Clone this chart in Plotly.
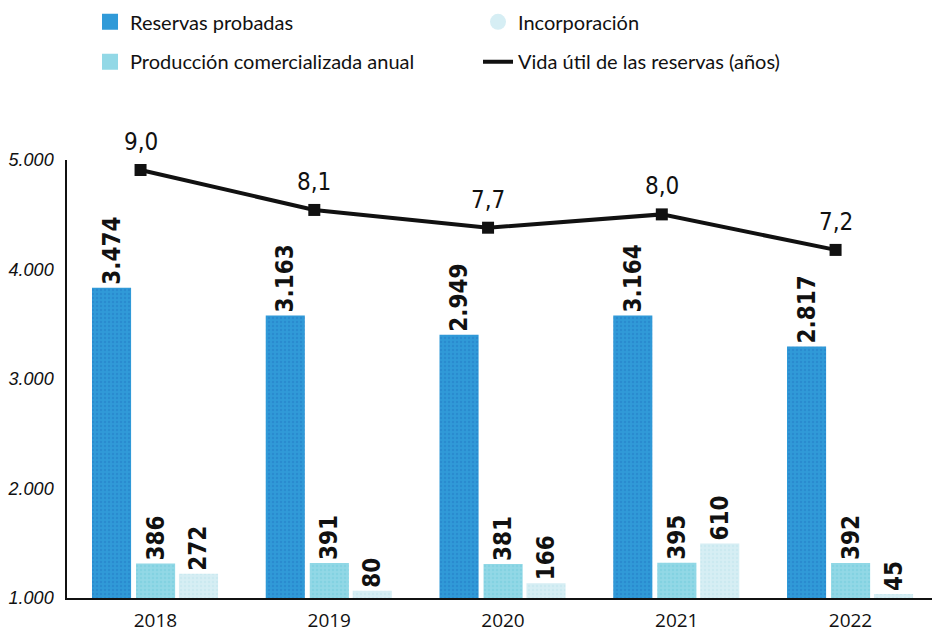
import plotly.graph_objects as go

years = [2018, 2019, 2020, 2021, 2022]
reservas = [3474, 3163, 2949, 3164, 2817]
produccion = [386, 391, 381, 395, 392]
incorporacion = [272, 80, 166, 610, 45]
vida_util = [9.0, 8.1, 7.7, 8.0, 7.2]
year_labels = ["2018", "2019", "2020", "2021", "2022"]
y_ticks = [1000, 2000, 3000, 4000, 5000]

C_RES = "#309ad8"
C_PROD = "#92d8e6"
C_INC = "#d6eef4"

BAR_FONT = dict(family="DejaVu Sans Condensed, Liberation Sans Narrow, sans-serif",
                size=24, color="#111111", weight="bold")
LINE_FONT = dict(family="DejaVu Sans Condensed, Liberation Sans Narrow, sans-serif",
                 size=24, color="#111111")

W = 0.225
fig = go.Figure()

def bar(vals, color, offset, pat):
    return go.Bar(
        x=years, y=vals, width=W, offset=offset,
        marker=dict(color=color, line=dict(width=0), pattern=pat),
        text=vals, texttemplate="%{y:,.0f}", textposition="outside",
        textangle=-90, textfont=BAR_FONT, cliponaxis=False,
        constraintext="none", showlegend=False, hoverinfo="skip",
        xaxis="x", yaxis="y2",
    )

fig.add_trace(bar(reservas, C_RES, -0.3655,
                  dict(shape=".", fgcolor="#1f6fbc", fgopacity=0.35, size=4, solidity=0.3)))
fig.add_trace(bar(produccion, C_PROD, -0.112,
                  dict(shape=".", fgcolor="#5fc3d6", fgopacity=0.3, size=4, solidity=0.3)))
fig.add_trace(bar(incorporacion, C_INC, 0.135,
                  dict(shape=".", fgcolor="#b5e0ea", fgopacity=0.3, size=4, solidity=0.3)))

fig.add_trace(go.Scatter(
    x=years, y=vida_util, mode="lines+markers",
    line=dict(color="#111111", width=4),
    marker=dict(symbol="square", size=12, color="#111111"),
    showlegend=False, xaxis="x2", yaxis="y3", hoverinfo="skip",
))
for xv, v in zip(years, vida_util):
    fig.add_annotation(x=xv, y=v, xref="x2", yref="y3", text=f"{v:.1f}".replace(".", ","),
                       showarrow=False, yanchor="bottom", yshift=12, font=LINE_FONT)

# legend entries
def leg(name, symbol, color, legend, rank):
    return go.Scatter(x=[None], y=[None], mode="markers", name=name,
                      marker=dict(symbol=symbol, size=16, color=color),
                      legend=legend, legendrank=rank, xaxis="x", yaxis="y")

fig.add_trace(leg("Reservas probadas", "square", C_RES, "legend", 1))
fig.add_trace(leg("Incorporación", "circle", C_INC, "legend", 2))
fig.add_trace(leg("Producción comercializada anual", "square", C_PROD, "legend2", 1))
fig.add_trace(go.Scatter(x=[None], y=[None], mode="lines", name="Vida útil de las reservas (años)",
                         line=dict(color="#111111", width=4), legend="legend2", legendrank=2,
                         xaxis="x", yaxis="y"))

xr = [2017.4907, 2022.469]
shift = 0.086
LEG_FONT = dict(family="Lato, Open Sans, sans-serif", size=20, color="#111111")

fig.update_layout(
    width=939, height=633,
    margin=dict(l=67, r=7, t=160, b=35, autoexpand=False),
    paper_bgcolor="white", plot_bgcolor="white",
    separators=",.",
    xaxis=dict(range=xr, tickvals=years, ticktext=year_labels, showgrid=False, zeroline=False,
               showline=True, linecolor="#111111", linewidth=1.5, ticks="",
               ticklabelstandoff=4,
               tickfont=dict(family="Open Sans, sans-serif", size=19, color="#111111")),
    xaxis2=dict(range=[xr[0] + shift, xr[1] + shift], overlaying="x", visible=False),
    yaxis=dict(range=[1000, 5000], tickvals=y_ticks, tickformat=",.0f", showgrid=False,
               zeroline=False, showline=True, linecolor="#111111", linewidth=1.5, ticks="",
               ticklabelstandoff=8,
               tickfont=dict(family="Liberation Sans, Arial, sans-serif", size=18,
                             color="#111111", style="italic")),
    yaxis2=dict(range=[0, 4905], overlaying="y", visible=False),
    yaxis3=dict(range=[-0.64, 9.225], overlaying="y", anchor="x2", visible=False),
    legend=dict(orientation="h", x=0.0266, xanchor="left", y=1.36, yanchor="top",
                entrywidth=343, entrywidthmode="pixels", font=LEG_FONT,
                bgcolor="rgba(0,0,0,0)", itemclick=False),
    legend2=dict(orientation="h", x=0.0266, xanchor="left", y=1.269, yanchor="top",
                 entrywidth=343, entrywidthmode="pixels", font=LEG_FONT,
                 bgcolor="rgba(0,0,0,0)", itemclick=False),
)

fig.write_html("out.html", post_script="document.body.style.margin='0';",
               config={"displayModeBar": False})
